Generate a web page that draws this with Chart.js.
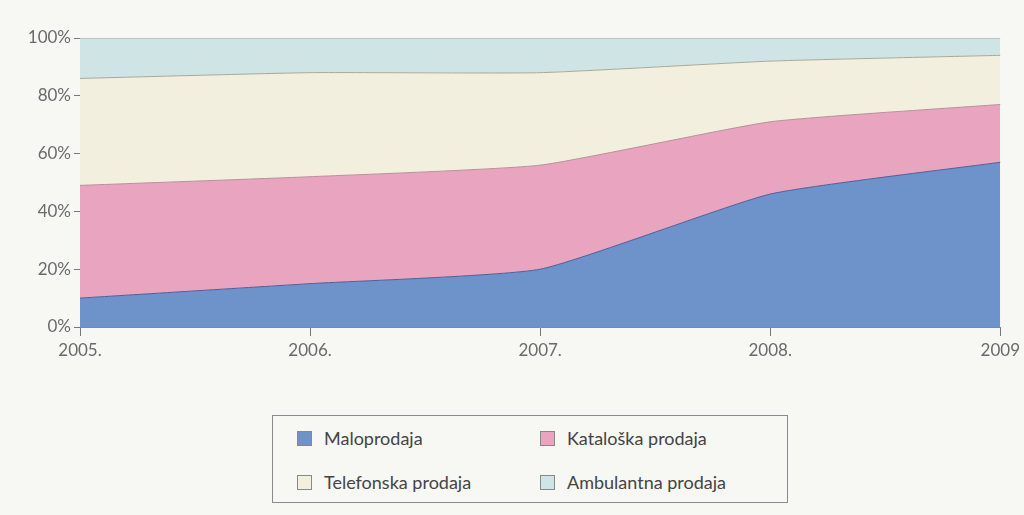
<!DOCTYPE html>
<html>
<head>
<meta charset="utf-8">
<script src="https://cdn.jsdelivr.net/npm/chart.js@4/dist/chart.umd.min.js"></script>
<style>
  body { margin: 0; background: #f7f7f4; width: 1024px; height: 515px; overflow: hidden; font-family: "Lato", "DejaVu Sans", sans-serif; }
  #wrap { position: absolute; left: 0; top: 0; width: 1024px; height: 390px; }
  #legend { position: absolute; left: 272px; top: 415px; width: 516px; height: 88px; border: 1px solid #8a8a8a; box-sizing: border-box; }
  .item { position: absolute; font-size: 18px; color: #444; white-space: nowrap; }
  .sw { display: inline-block; width: 13px; height: 13px; border: 1px solid #888; vertical-align: -1px; margin-right: 12px; }
</style>
</head>
<body>
<div id="wrap"><canvas id="myAreaChart"></canvas></div>
<div id="legend"></div>
<script>
var years = ['2005.', '2006.', '2007.', '2008.', '2009'];
var seriesNames = ['Maloprodaja', 'Kataloška prodaja', 'Telefonska prodaja', 'Ambulantna prodaja'];
var maloprodaja = [10, 15, 20, 46, 57];
var kataloska = [39, 37, 36, 25, 20];
var telefonska = [37, 36, 32, 21, 17];
var ambulantna = [14, 12, 12, 8, 6];
var yTicks = [0, 20, 40, 60, 80, 100];

var fills = ['#6d93ca', '#e9a5c0', '#f3efde', '#cfe4e4'];
var borders = ['#4f5f9a', '#b98f9c', '#a8a89a', '#9aa8a8'];
var values = [maloprodaja, kataloska, telefonska, ambulantna];

var datasets = values.map(function (v, i) {
    return {
        label: seriesNames[i],
        data: v,
        backgroundColor: fills[i],
        borderColor: borders[i],
        borderWidth: 1,
        pointRadius: 0,
        tension: 0.15,
        fill: i === 0 ? 'origin' : '-1'
    };
});

const config_area = {
    type: 'line',
    data: { labels: years, datasets: datasets },
    options: {
        responsive: true,
        maintainAspectRatio: false,
        animation: false,
        layout: { padding: { top: 38, right: 21, left: 0, bottom: 0 } },
        plugins: { legend: { display: false }, tooltip: { enabled: false } },
        scales: {
            x: {
                offset: false,
                grid: { display: true, drawOnChartArea: false, tickLength: 9, color: '#777' },
                border: { color: '#888' },
                ticks: { color: '#6a6a6a', font: { size: 17, family: 'Lato' }, padding: 4, maxRotation: 0, autoSkip: false },
                afterFit: function (s) { s.height = 63; }
            },
            y: {
                stacked: true,
                min: 0,
                max: 100,
                afterBuildTicks: function (s) { s.ticks = yTicks.map(function (t) { return { value: t }; }); },
                grid: { display: true, drawOnChartArea: false, tickLength: 6, color: '#777' },
                border: { color: '#888' },
                ticks: { color: '#6a6a6a', font: { size: 17, family: 'Lato' }, padding: 3,
                    callback: function (v) { return v + '%'; } },
                afterFit: function (s) { s.width = 80; }
            }
        }
    }
};

var myChart = new Chart(document.getElementById('myAreaChart'), config_area);

// legend box, two columns
var legend = document.getElementById('legend');
var pos = [[24, 11], [267, 11], [24, 55], [267, 55]];
seriesNames.forEach(function (name, i) {
    var d = document.createElement('div');
    d.className = 'item';
    d.style.left = pos[i][0] + 'px';
    d.style.top = pos[i][1] + 'px';
    d.innerHTML = '<span class="sw" style="background:' + fills[i] + '"></span>' + name;
    legend.appendChild(d);
});
</script>
</body>
</html>
